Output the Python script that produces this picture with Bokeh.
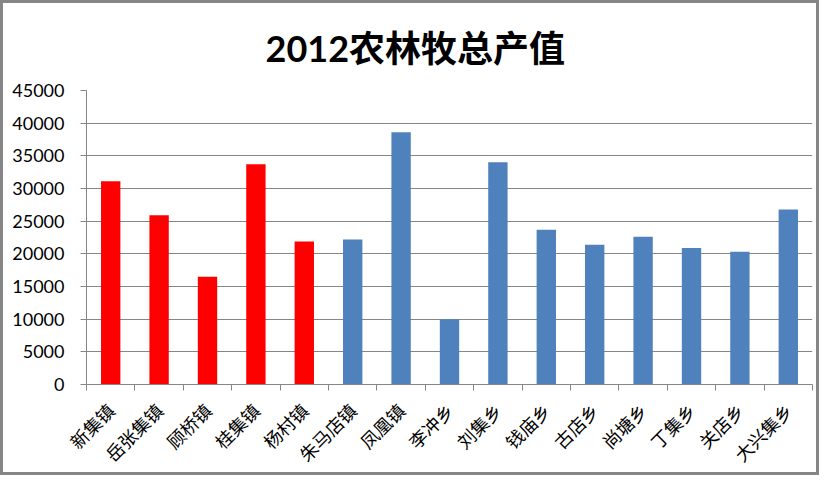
from bokeh.plotting import figure
from bokeh.models import Range1d, FixedTicker
from bokeh.embed import file_html
from bokeh.resources import INLINE

towns = ["新集镇", "岳张集镇", "顾桥镇", "桂集镇", "杨村镇", "朱马店镇", "凤凰镇", "李冲乡",
         "刘集乡", "钱庙乡", "古店乡", "尚塘乡", "丁集乡", "关店乡", "大兴集乡"]
values = [31100, 25900, 16500, 33700, 21900, 22200, 38600, 10000,
          34000, 23700, 21400, 22600, 20900, 20300, 26800]
highlight = [True, True, True, True, True, False, False, False,
             False, False, False, False, False, False, False]
y_ticks = [0, 5000, 10000, 15000, 20000, 25000, 30000, 35000, 40000, 45000]

RED = "#FF0000"
BLUE = "#4F81BD"
GRID = "#868686"

xs = [i + 0.5 for i in range(len(towns))]
colors = [RED if h else BLUE for h in highlight]

p = figure(width=819, height=475, output_backend="svg", toolbar_location=None,
           x_range=Range1d(0, len(towns)), y_range=Range1d(0, 45000),
           min_border_left=83, min_border_right=10, min_border_top=86, min_border_bottom=92,
           title="2012农林牧总产值")
p.styles = {"border": "3px solid #868686", "box-sizing": "border-box"}

p.vbar(x=xs, top=values, width=0.4, color=colors, line_color=None)

p.title.text_font = "Lato, Noto Sans CJK SC"
p.title.text_font_size = "36px"
p.title.text_font_style = "bold"
p.title.align = "left"
p.title.offset = 179
p.title.standoff = 41
p.title.text_color = "black"

p.outline_line_color = None
p.xgrid.grid_line_color = None
p.ygrid.grid_line_color = GRID
p.ygrid.grid_line_width = 1

ya = p.yaxis[0]
ya.ticker = FixedTicker(ticks=y_ticks)
ya.axis_line_color = GRID
ya.major_tick_line_color = GRID
ya.major_tick_out = 6
ya.major_tick_in = 0
ya.minor_tick_line_color = None
ya.major_label_text_font = "Lato"
ya.major_label_text_font_size = "18px"
ya.major_label_text_color = "black"
ya.major_label_standoff = 16

xa = p.xaxis[0]
xa.ticker = FixedTicker(ticks=xs, minor_ticks=list(range(len(towns) + 1)))
xa.major_label_overrides = {x: t for x, t in zip(xs, towns)}
xa.major_label_orientation = 0.785398
xa.axis_line_color = GRID
xa.major_tick_line_color = None
xa.minor_tick_line_color = GRID
xa.minor_tick_out = 6
xa.minor_tick_in = 0
xa.major_label_text_font = "Noto Sans CJK SC"
xa.major_label_text_font_size = "18px"
xa.major_label_text_color = "black"
xa.major_label_standoff = 16

open("out.html", "w").write(file_html(p, INLINE))
